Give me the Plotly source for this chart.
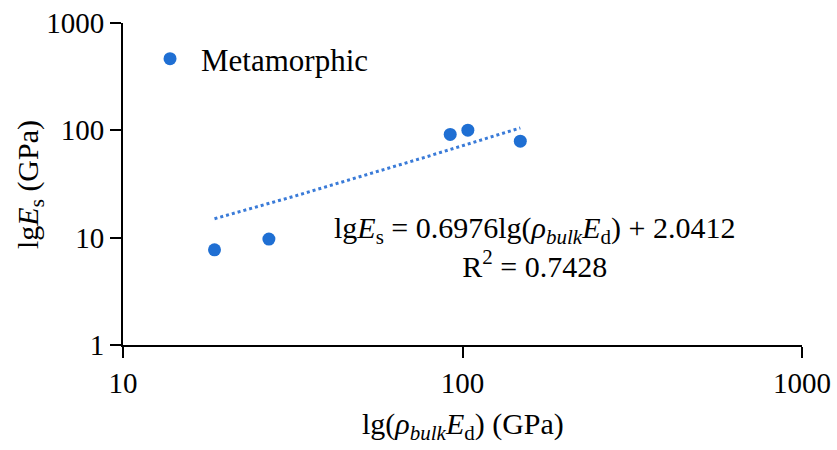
import numpy as np
import plotly.graph_objects as go

# Metamorphic samples: bulk-density-scaled dynamic modulus vs static modulus (GPa)
rho_ed = [18.6, 26.9, 92.0, 103.7, 148.0]
e_static = [7.7, 9.7, 91.6, 100.4, 79.3]

# Linear trendline coefficients and fit quality
slope = 0.6976
intercept = 2.0412
r_squared = 0.7428

tick_vals = [10, 100, 1000]
y_tick_vals = [1, 10, 100, 1000]

blue = "#1F6FD3"
serif = "Liberation Serif, Times New Roman, serif"

xs = np.linspace(min(rho_ed), max(rho_ed), 200)
trend = slope * xs + intercept

fig = go.Figure()
fig.add_trace(go.Scatter(
    x=xs, y=trend, mode="lines",
    line=dict(color="#3A7BD8", width=3, dash="dot"),
    showlegend=False, hoverinfo="skip",
))
fig.add_trace(go.Scatter(
    x=rho_ed, y=e_static, mode="markers", name="Metamorphic",
    marker=dict(color=blue, size=13),
))

# Fit equation
fig.add_annotation(
    x=1.615, y=0.91, xref="x", yref="y",
    text=(f"lg<i>E</i><sub>s</sub> = {slope}lg(<i>ρ</i><sub><i>bulk</i></sub>"
          f"<i>E</i><sub>d</sub>) + {intercept}<br>R<sup>2</sup> = {r_squared}"),
    showarrow=False, xanchor="left", yanchor="middle", align="center",
    font=dict(family=serif, size=30, color="black"),
)

# Axis titles
fig.add_annotation(
    x=0.5, y=-0.25, xref="paper", yref="paper",
    text="lg(<i>ρ</i><sub><i>bulk</i></sub><i>E</i><sub>d</sub>) (GPa)",
    showarrow=False, xanchor="center", yanchor="middle",
    font=dict(family=serif, size=30, color="black"),
)
fig.add_annotation(
    x=-0.137, y=0.50, xref="paper", yref="paper",
    text="lg<i>E</i><sub>s</sub> (GPa)", textangle=-90,
    showarrow=False, xanchor="center", yanchor="middle",
    font=dict(family=serif, size=30, color="black"),
)

axis_common = dict(
    type="log", showgrid=False, zeroline=False, automargin=False,
    showline=True, linecolor="black", linewidth=2,
    ticks="outside", ticklen=11, tickwidth=2, tickcolor="black",
    tickfont=dict(family=serif, size=29, color="black"),
    minor=dict(showgrid=False, ticks=""),
)

fig.update_layout(
    width=837, height=450,
    margin=dict(l=123, r=35, t=23, b=105),
    paper_bgcolor="white", plot_bgcolor="white",
    xaxis=dict(range=[1, 3], tickvals=tick_vals,
               ticktext=[str(v) for v in tick_vals], **axis_common),
    yaxis=dict(range=[0, 3], tickvals=y_tick_vals,
               ticktext=[str(v) for v in y_tick_vals], **axis_common),
    legend=dict(
        x=0.0236, y=0.888, xanchor="left", yanchor="middle",
        font=dict(family=serif, size=31, color="black"),
        bgcolor="rgba(0,0,0,0)", itemwidth=52,
    ),
)

fig.write_html("out.html")
